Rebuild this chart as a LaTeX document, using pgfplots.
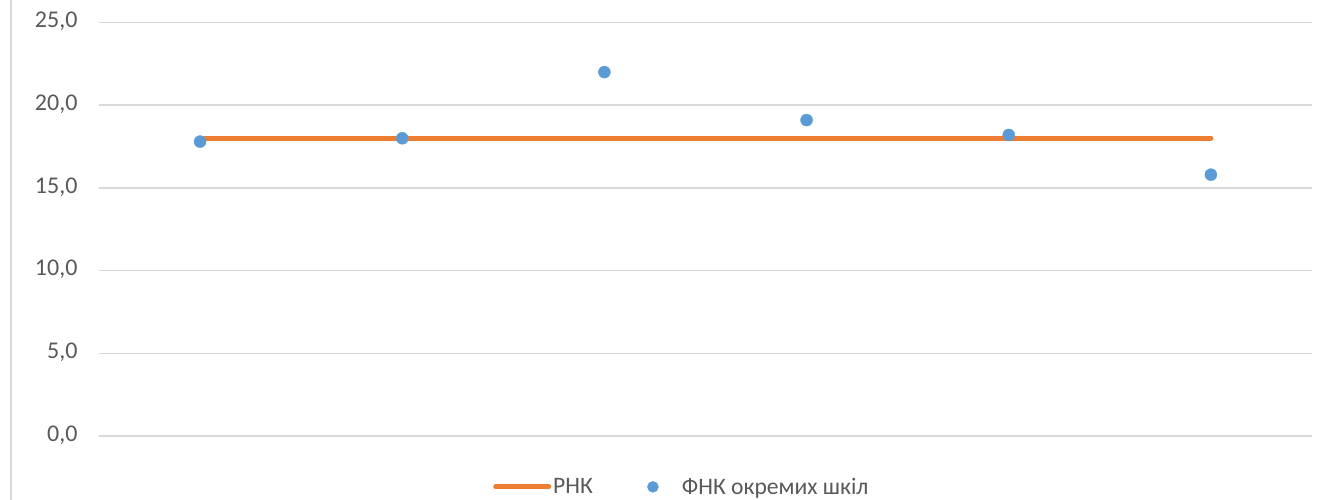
\documentclass[border=0pt]{standalone}
\usepackage{pgfplots}
\pgfplotsset{compat=1.18}
\usepackage{fontspec}
\setmainfont{Carlito}
\definecolor{orng}{HTML}{ED7D31}
\definecolor{blu}{HTML}{5B9BD5}
\definecolor{grd}{HTML}{D9D9D9}
\definecolor{txt}{HTML}{595959}
\begin{document}
\begin{tikzpicture}[x=1pt,y=1pt]
\useasboundingbox (0,0) rectangle (1323,500);
\draw[grd, line width=1.5pt] (11,0) -- (11,500);
\begin{axis}[
  at={(99pt,64pt)}, anchor=south west,
  scale only axis, width=1213pt, height=413.5pt,
  xmin=0.5, xmax=6.5, ymin=0, ymax=25,
  ytick={0,5,...,25}, xtick=\empty,
  ymajorgrids, major grid style={grd, line width=1.5pt},
  axis line style={draw=none},
  major tick length=0pt,
  yticklabel style={font=\fontsize{24}{24}\selectfont, text=txt, anchor=east, xshift=-18pt, yshift=1pt},
  legend style={at={(0.4805,-0.123)}, anchor=center, draw=none, fill=none,
    font=\fontsize{23.6}{23.6}\selectfont, text=txt,
    /tikz/every even column/.append style={column sep=30pt}},
  legend columns=2,
  legend cell align=left,
  /pgf/number format/fixed,
  /pgf/number format/fixed zerofill,
  /pgf/number format/precision=1,
  /pgf/number format/use comma,
  /pgf/number format/assume math mode=true,
]
\addplot[orng, line width=5pt, line cap=round,
  legend image code/.code={\draw[orng, line width=5pt, line cap=round] (0pt,0pt) -- (53pt,0pt);}]
  coordinates {(1,18) (6,18)};
\addlegendentry{РНК}
\addplot[only marks, mark=*, mark size=6pt, mark options={fill=blu, draw=blu},
  legend image code/.code={\path[draw=none, fill=none] (0pt,-1pt) rectangle (55pt,1pt); \fill[blu] (28pt,0pt) circle (5.5pt);}]
  coordinates {(1,17.8) (2,18.0) (3,22.0) (4,19.1) (5,18.2) (6,15.8)};
\addlegendentry{ФНК окремих шкіл}
\end{axis}
\end{tikzpicture}
\end{document}
